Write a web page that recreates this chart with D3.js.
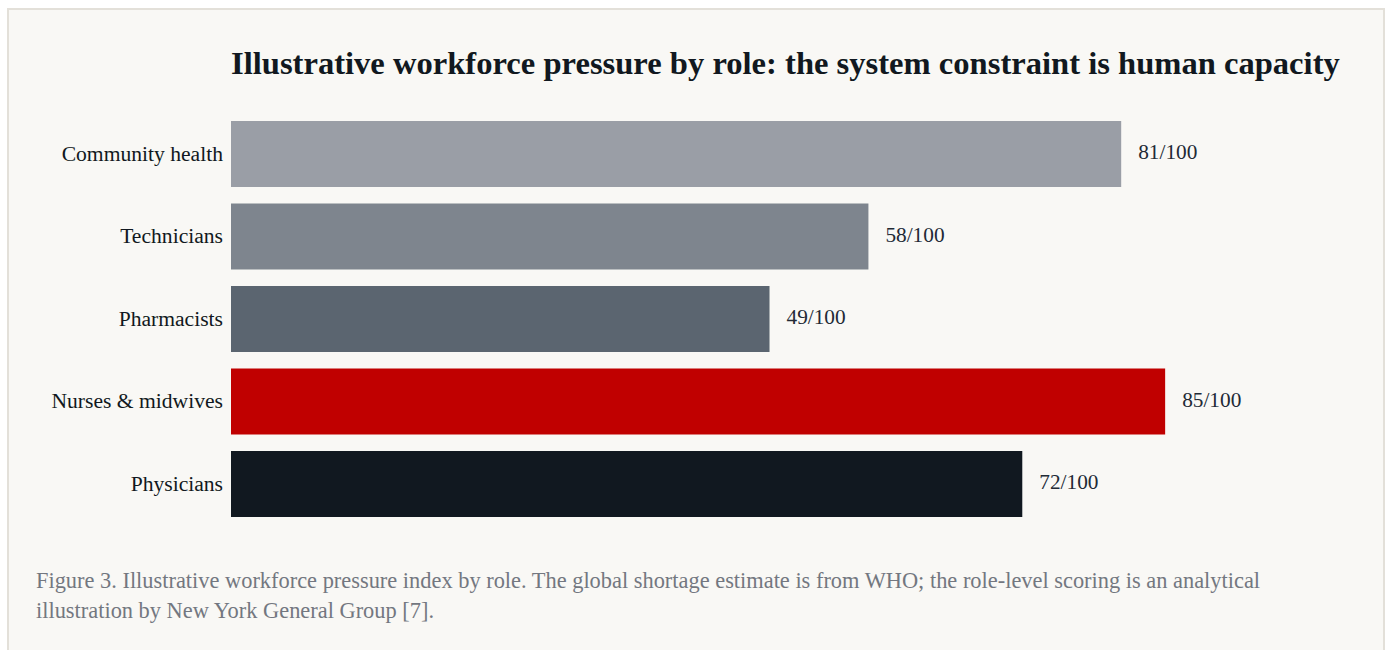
<!DOCTYPE html>
<html>
<head>
<meta charset="utf-8">
<script src="https://cdn.jsdelivr.net/npm/d3@7"></script>
<style>
  html, body { margin: 0; padding: 0; background: #ffffff; }
  .frame {
    position: absolute; left: 7px; top: 8px;
    width: 1374px; height: 700px;
    background: #f9f8f5;
    border: 2px solid #e3e0d9;
  }
  svg { position: absolute; left: 0; top: 0; }
</style>
</head>
<body>
<div class="frame"></div>
<script>
const roles = ["Community health", "Technicians", "Pharmacists", "Nurses & midwives", "Physicians"];
const scores = [81, 58, 49, 85, 72];
const barColors = ["#9a9ea6", "#7e858e", "#5b6570", "#c00000", "#111820"];
const title = "Illustrative workforce pressure by role: the system constraint is human capacity";
const captionLines = [
  "Figure 3. Illustrative workforce pressure index by role. The global shortage estimate is from WHO; the role-level scoring is an analytical",
  "illustration by New York General Group [7]."
];

const width = 1388, height = 650;
const serif = "'Liberation Serif', 'Times New Roman', serif";

const svg = d3.select("body").append("svg")
  .attr("width", width)
  .attr("height", height);

const x = d3.scaleLinear().domain([0, 100]).range([231, 1330]);
const y = d3.scaleBand().domain(roles).range([112.75, 525.25])
  .paddingInner(0.2).paddingOuter(0.1);

svg.append("text")
  .attr("x", 231).attr("y", 74)
  .attr("font-family", serif)
  .attr("font-size", 32.6)
  .attr("font-weight", "bold")
  .attr("fill", "#111820")
  .text(title);

const rows = roles.map((r, i) => ({ role: r, score: scores[i], color: barColors[i] }));

svg.selectAll("rect.bar")
  .data(rows)
  .enter().append("rect")
  .attr("class", "bar")
  .attr("x", x(0))
  .attr("y", d => y(d.role))
  .attr("width", d => x(d.score) - x(0))
  .attr("height", y.bandwidth())
  .attr("fill", d => d.color);

// category labels
svg.selectAll("text.cat")
  .data(rows)
  .enter().append("text")
  .attr("class", "cat")
  .attr("x", x(0) - 8)
  .attr("y", d => y(d.role) + y.bandwidth() / 2 - 1)
  .attr("dy", "0.35em")
  .attr("text-anchor", "end")
  .attr("font-family", serif)
  .attr("font-size", 21.6)
  .attr("fill", "#111820")
  .text(d => d.role);

// value labels
svg.selectAll("text.val")
  .data(rows)
  .enter().append("text")
  .attr("class", "val")
  .attr("x", d => x(d.score) + 17)
  .attr("y", d => y(d.role) + y.bandwidth() / 2 - 2)
  .attr("dy", "0.35em")
  .attr("font-family", serif)
  .attr("font-size", 21.3)
  .attr("fill", "#222a35")
  .text(d => d.score + "/100");

svg.append("text")
  .attr("font-family", serif)
  .attr("font-size", 22.4)
  .attr("fill", "#737780")
  .selectAll("tspan")
  .data(captionLines)
  .enter().append("tspan")
  .attr("x", 36)
  .attr("y", (d, i) => 588 + i * 30)
  .text(d => d);
</script>
</body>
</html>
